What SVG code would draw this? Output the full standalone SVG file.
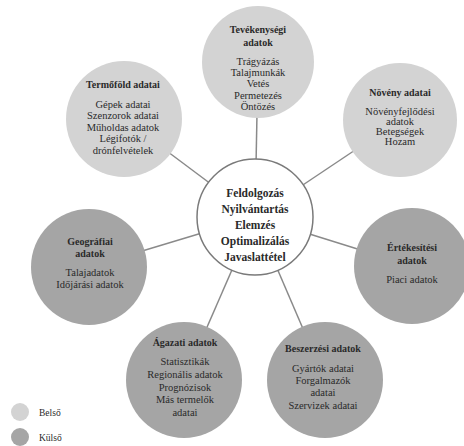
<svg xmlns="http://www.w3.org/2000/svg" width="464" height="446" viewBox="0 0 464 446">
<style>
.light{fill:#d3d3d3}
.dark{fill:#a5a5a5}
.hub{fill:#ffffff;stroke:#7a7a7a;stroke-width:1.5}
.conn line{stroke:#8a8a8a;stroke-width:1.5}
.t{font-weight:bold;font-size:10px;fill:#2a2a2a;text-anchor:middle}
.b{font-size:10.5px;fill:#2a2a2a;text-anchor:middle}
.c{font-weight:bold;font-size:11.5px;fill:#2a2a2a;text-anchor:middle}
.lg{font-size:9.5px;fill:#2a2a2a}
</style>
<rect width="464" height="446" fill="#ffffff"/>
<g class="conn">
<line x1="255" y1="217" x2="258" y2="62"/>
<line x1="255" y1="217" x2="124" y2="119"/>
<line x1="255" y1="217" x2="400" y2="120"/>
<line x1="255" y1="217" x2="89" y2="267"/>
<line x1="255" y1="217" x2="412" y2="266"/>
<line x1="255" y1="217" x2="184" y2="380"/>
<line x1="255" y1="217" x2="325" y2="380"/>
</g>
<g id="tevekenysegi">
<circle class="light" cx="258" cy="62" r="56"/>
<text font-family="Liberation Serif" class="t" x="258" y="33">Tevékenységi</text>
<text font-family="Liberation Serif" class="t" x="258" y="46">adatok</text>
<text font-family="Liberation Serif" class="b" x="258" y="65">Trágyázás</text>
<text font-family="Liberation Serif" class="b" x="258" y="76">Talajmunkák</text>
<text font-family="Liberation Serif" class="b" x="258" y="87">Vetés</text>
<text font-family="Liberation Serif" class="b" x="258" y="99">Permetezés</text>
<text font-family="Liberation Serif" class="b" x="258" y="110">Öntözés</text>
</g>
<g id="termofold">
<circle class="light" cx="124" cy="119" r="58"/>
<text font-family="Liberation Serif" class="t" x="123" y="88">Termőföld adatai</text>
<text font-family="Liberation Serif" class="b" x="123" y="108">Gépek adatai</text>
<text font-family="Liberation Serif" class="b" x="123" y="119">Szenzorok adatai</text>
<text font-family="Liberation Serif" class="b" x="123" y="131">Műholdas adatok</text>
<text font-family="Liberation Serif" class="b" x="123" y="142">Légifotók /</text>
<text font-family="Liberation Serif" class="b" x="123" y="154">drónfelvételek</text>
</g>
<g id="noveny">
<circle class="light" cx="400" cy="120" r="57"/>
<text font-family="Liberation Serif" class="t" x="400" y="96">Növény adatai</text>
<text font-family="Liberation Serif" class="b" x="400" y="115">Növényfejlődési</text>
<text font-family="Liberation Serif" class="b" x="400" y="125">adatok</text>
<text font-family="Liberation Serif" class="b" x="400" y="135">Betegségek</text>
<text font-family="Liberation Serif" class="b" x="400" y="145">Hozam</text>
</g>
<g id="geografiai">
<circle class="dark" cx="89" cy="267" r="58"/>
<text font-family="Liberation Serif" class="t" x="90" y="245">Geográfiai</text>
<text font-family="Liberation Serif" class="t" x="90" y="257">adatok</text>
<text font-family="Liberation Serif" class="b" x="90" y="276">Talajadatok</text>
<text font-family="Liberation Serif" class="b" x="90" y="288">Időjárási adatok</text>
</g>
<g id="ertekesitesi">
<circle class="dark" cx="412" cy="266" r="58"/>
<text font-family="Liberation Serif" class="t" x="412" y="251">Értékesítési</text>
<text font-family="Liberation Serif" class="t" x="412" y="264">adatok</text>
<text font-family="Liberation Serif" class="b" x="412" y="283">Piaci adatok</text>
</g>
<g id="agazati">
<circle class="dark" cx="184" cy="380" r="58"/>
<text font-family="Liberation Serif" class="t" x="185" y="346">Ágazati adatok</text>
<text font-family="Liberation Serif" class="b" x="185" y="365">Statisztikák</text>
<text font-family="Liberation Serif" class="b" x="185" y="378">Regionális adatok</text>
<text font-family="Liberation Serif" class="b" x="185" y="391">Prognózisok</text>
<text font-family="Liberation Serif" class="b" x="185" y="403">Más termelők</text>
<text font-family="Liberation Serif" class="b" x="185" y="416">adatai</text>
</g>
<g id="beszerzesi">
<circle class="dark" cx="325" cy="380" r="58"/>
<text font-family="Liberation Serif" class="t" x="323" y="352">Beszerzési adatok</text>
<text font-family="Liberation Serif" class="b" x="323" y="372">Gyártók adatai</text>
<text font-family="Liberation Serif" class="b" x="323" y="384">Forgalmazók</text>
<text font-family="Liberation Serif" class="b" x="323" y="396">adatai</text>
<text font-family="Liberation Serif" class="b" x="323" y="409">Szervizek adatai</text>
</g>
<g id="kozpont">
<circle class="hub" cx="255" cy="217" r="58"/>
<text font-family="Liberation Serif" class="c" x="255" y="197">Feldolgozás</text>
<text font-family="Liberation Serif" class="c" x="255" y="213">Nyilvántartás</text>
<text font-family="Liberation Serif" class="c" x="255" y="229">Elemzés</text>
<text font-family="Liberation Serif" class="c" x="255" y="245">Optimalizálás</text>
<text font-family="Liberation Serif" class="c" x="255" y="261">Javaslattétel</text>
</g>
<g id="legend">
<circle class="light" cx="20" cy="412" r="9"/>
<text font-family="Liberation Serif" class="lg" x="39" y="416">Belső</text>
<circle class="dark" cx="20" cy="437" r="9"/>
<text font-family="Liberation Serif" class="lg" x="39" y="441">Külső</text>
</g>
</svg>
